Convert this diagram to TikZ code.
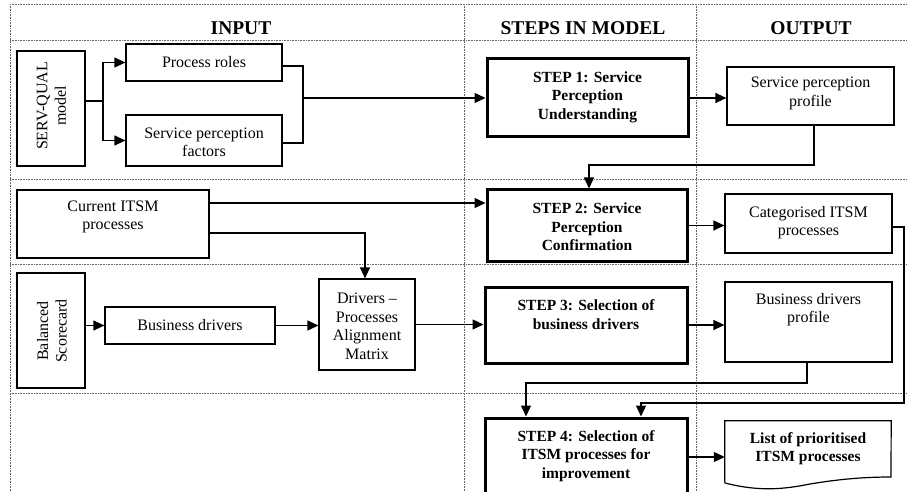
\documentclass[tikz,border=0pt]{standalone}
\usepackage{fontspec}
\setmainfont{Liberation Serif}
\usetikzlibrary{arrows.meta,calc}
\begin{document}
\begin{tikzpicture}[x=1pt,y=-1pt,
  grid/.style={densely dotted, line width=0.6pt, black!60},
  box/.style={draw, line width=1.2pt, inner sep=0pt},
  stepbox/.style={draw, line width=3pt, inner sep=0pt},
  lbl/.style={align=center, inner sep=0pt, font=\fontsize{16}{18.5}\selectfont},
  blbl/.style={align=center, inner sep=0pt, font=\fontsize{15.5}{18.5}\selectfont\bfseries},
  head/.style={inner sep=0pt, font=\fontsize{19.5}{22}\selectfont\bfseries},
  link/.style={line width=1.2pt},
  arr/.style={link, -{Triangle[length=11pt,width=10pt]}},
]
\useasboundingbox (0,0) rectangle (908,492);
\clip (0,0) rectangle (908,492);

% swimlane grid
\draw[grid] (10,4) -- (908,4);
\draw[grid] (10,40) -- (908,40);
\draw[grid] (10,179) -- (908,179);
\draw[grid] (10,264) -- (908,264);
\draw[grid] (10,393) -- (908,393);
\draw[grid] (10,4) -- (10,492);
\draw[grid] (464,4) -- (464,492);
\draw[grid] (696,4) -- (696,492);

% column headings
\node[head] (h-in) at (241,28) {INPUT};
\node[head] (h-steps) at (583,28) {STEPS IN MODEL};
\node[head] (h-out) at (811,28) {OUTPUT};

% boxes
\node[box, minimum width=68, minimum height=115] (serv) at (51,108.5) {};
\node[box, minimum width=156, minimum height=37] (proles) at (204,62.5) {};
\node[box, minimum width=156, minimum height=51] (spf) at (204,140.5) {};
\node[stepbox, minimum width=201, minimum height=78] (step1) at (587.5,98) {};
\node[box, minimum width=167, minimum height=58] (spp) at (810.5,96) {};
\node[box, minimum width=192, minimum height=68] (citsm) at (113,224) {};
\node[stepbox, minimum width=200, minimum height=71] (step2) at (587,225.5) {};
\node[box, minimum width=167, minimum height=59] (cat) at (808.5,223.5) {};
\node[box, minimum width=68, minimum height=115] (bsc) at (51,330.5) {};
\node[box, minimum width=170, minimum height=37] (bd) at (190,325.5) {};
\node[box, minimum width=96, minimum height=91] (drv) at (367,324.5) {};
\node[stepbox, minimum width=202, minimum height=76] (step3) at (586,325) {};
\node[box, minimum width=167, minimum height=80] (bdp) at (808.5,322) {};
\node[stepbox, minimum width=202, minimum height=90] (step4) at (586,463) {};
\node[inner sep=0pt, minimum width=166, minimum height=60] (list) at (808,451) {};
\draw[line width=1.2pt] (list.south west) -- (list.north west) -- (list.north east) -- (891,477)
  .. controls (865,477) and (840,479) .. (810,484)
  .. controls (785,489) and (760,492) .. (725,483) -- cycle;

% box texts
\node[lbl, rotate=90] (t-serv) at (51.5,106) {SERV-QUAL\\model};
\node[lbl] (t-proles) at (204,62) {Process roles};
\node[lbl] (t-spf) at (204,142.5) {Service perception\\factors};
\node[blbl] (t-step1) at (587.5,97) {STEP 1: Service\\Perception\\Understanding};
\node[lbl] (t-spp) at (810.5,93.5) {Service perception\\profile};
\node[lbl] (t-citsm) at (113,217) {Current ITSM\\processes};
\node[blbl] (t-step2) at (587,227) {STEP 2: Service\\Perception\\Confirmation};
\node[lbl] (t-cat) at (808.5,222.5) {Categorised ITSM\\processes};
\node[lbl, rotate=90] (t-bsc) at (52,331) {Balanced\\Scorecard};
\node[lbl] (t-bd) at (190,325) {Business drivers};
\node[lbl] (t-drv) at (367,326.5) {Drivers –\\Processes\\Alignment\\Matrix};
\node[blbl] (t-step3) at (586,314.5) {STEP 3: Selection of\\business drivers};
\node[lbl] (t-bdp) at (808.5,309.5) {Business drivers\\profile};
\node[blbl] (t-step4) at (586,456) {STEP 4: Selection of\\ITSM processes for\\improvement};
\node[blbl] (t-list) at (808,448.5) {List of prioritised\\ITSM processes};

% junction points
\coordinate (j1) at (103,101);
\coordinate (j2) at (303,98);
\coordinate (j3) at (814,165);
\coordinate (j4) at (904,403);
\coordinate (j5) at (807,383);

% connectors
\draw[link] ([yshift=7.5pt]serv.east) -- (j1);
\draw[arr] (j1) |- (proles.west);
\draw[arr] (j1) |- (spf.west);
\draw[link] ([yshift=-3.5pt]proles.east) -| (j2) |- ([yshift=-2.5pt]spf.east);
\draw[arr] (j2) -- (step1.west);
\draw[arr] (step1.east) -- (step1.east -| spp.west);
\draw[arr] ([xshift=3.5pt]spp.south) |- (j3) -| ([xshift=2pt]step2.north);
\draw[arr] ([yshift=21pt]citsm.east) -- ([yshift=21pt]citsm.east -| step2.west);
\draw[arr] ([yshift=-9pt]citsm.east) -| ([xshift=-2pt]drv.north);
\draw[arr] (bd.west -| bsc.east) -- (bd.west);
\draw[arr] (bd.east) -- (bd.east -| drv.west);
\draw[arr] (drv.east) -- (drv.east -| step3.west);
\draw[arr] (step2.east) -- (step2.east -| cat.west);
\draw[arr] (step3.east) -- (step3.east -| bdp.west);
\draw[arr] ([yshift=-3.5pt]cat.east) -| (j4) -| ([xshift=55pt]step4.north);
\draw[arr] ([xshift=-1.5pt]bdp.south) |- (j5) -| ([xshift=-60pt]step4.north);
\draw[arr] ([yshift=6pt]step4.east) -- ([yshift=6pt]step4.east -| list.west);
\end{tikzpicture}
\end{document}
